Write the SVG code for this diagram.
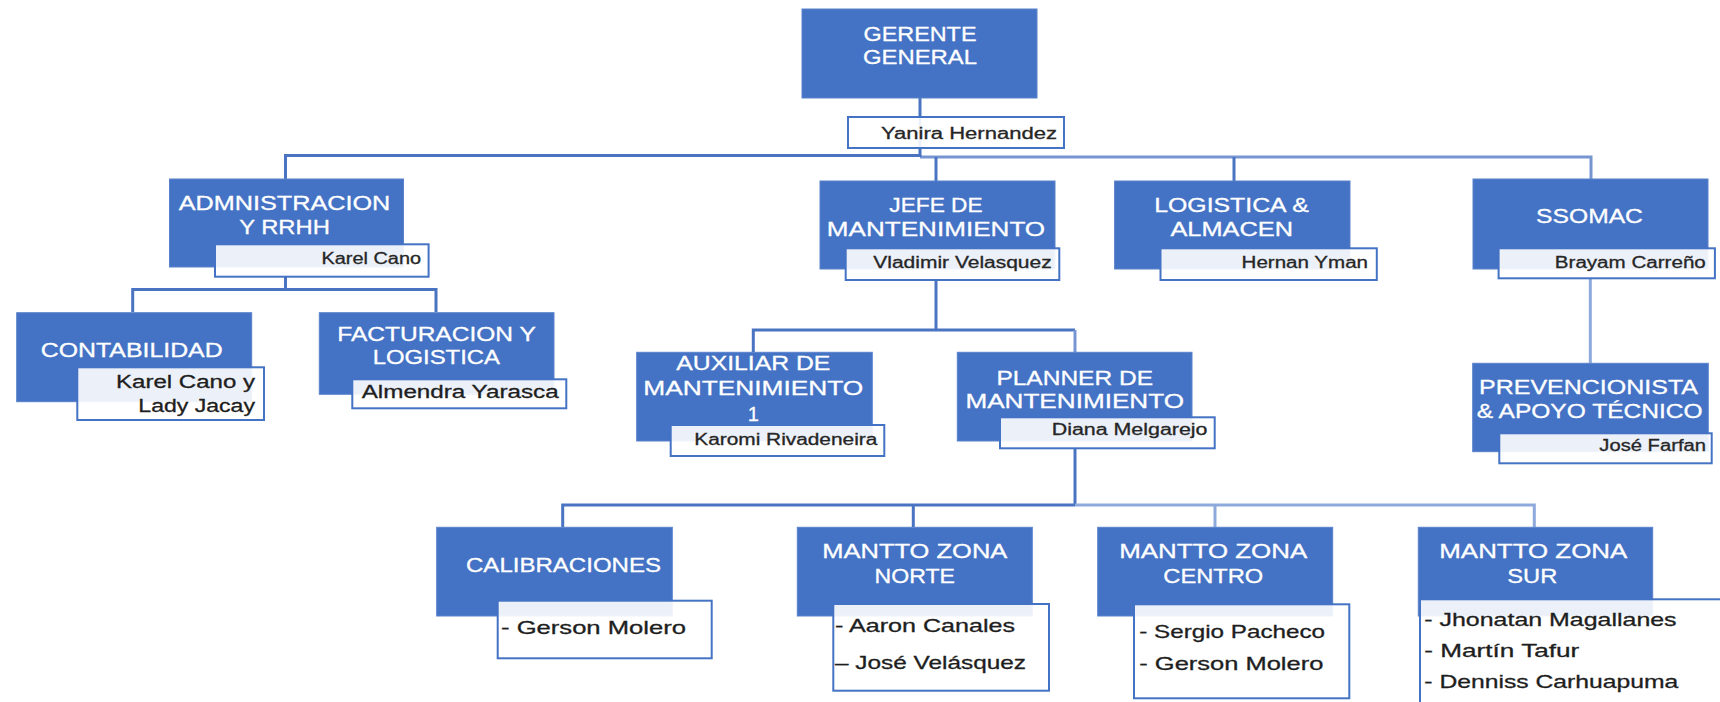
<svg xmlns="http://www.w3.org/2000/svg" width="1720" height="702" viewBox="0 0 1720 702">
<style>
.box{fill:#4472C4;stroke:#5A82CC;stroke-width:1}
.nm{fill:#FFFFFF;fill-opacity:0.9;stroke:#4472C4;stroke-width:2}
.t{font-family:"Liberation Sans",Arial,sans-serif;font-size:20px;fill:#FFFFFF;stroke:#FFFFFF;stroke-width:0.3;text-anchor:middle}
.n{font-family:"Liberation Sans",Arial,sans-serif;font-size:16px;fill:#262626;stroke:#262626;stroke-width:0.3;text-anchor:end}
.nb{font-family:"Liberation Sans",Arial,sans-serif;font-size:18px;fill:#1E1E1E;stroke:#1E1E1E;stroke-width:0.3;text-anchor:end}
.ls{font-family:"Liberation Sans",Arial,sans-serif;font-size:18.5px;fill:#1E1E1E;stroke:#1E1E1E;stroke-width:0.3;text-anchor:start}
.ln{fill:none;stroke:#4A74C2;stroke-width:3}
.lnm{fill:none;stroke:#7696D2;stroke-width:3}
.lnl{fill:none;stroke:#8EA9DB;stroke-width:3}
</style>
<rect x="0" y="0" width="1720" height="702" fill="#FFFFFF"/>
<g id="connectors">
<path class="ln" d="M920 98 V156"/>
<path class="ln" d="M285.5 179 V155.5 H920"/>
<path class="lnm" d="M920 157 H1591 V179"/>
<path class="ln" d="M920 155 V157"/>
<path class="ln" d="M936 157 V181"/>
<path class="ln" d="M1234 157 V181"/>
<path class="ln" d="M285.5 276 V289.5"/>
<path class="ln" d="M132.7 312 V289.5 H436 V312"/>
<path class="ln" d="M936 280 V330"/>
<path class="ln" d="M753.3 352 V330 H1075"/>
<path class="lnm" d="M1075 330 V352"/>
<path class="lnl" d="M1590.3 278 V363"/>
<path class="ln" d="M1075 448 V505"/>
<path class="ln" d="M562.7 527 V505 H1075"/>
<path class="ln" d="M913.3 505 V527"/>
<path class="lnl" d="M1075 505 H1534.3 V527"/>
<path class="lnl" d="M1215 505 V527"/>
</g>
<g id="n-gerente">
<rect class="box" x="802" y="9" width="235" height="89"/>
<text class="t" x="920" y="40.7" textLength="113" lengthAdjust="spacingAndGlyphs">GERENTE</text>
<text class="t" x="920" y="64" textLength="114" lengthAdjust="spacingAndGlyphs">GENERAL</text>
<rect class="nm" x="848" y="117" width="216" height="31"/>
<text class="n" x="1057" y="138.5" textLength="176" lengthAdjust="spacingAndGlyphs">Yanira Hernandez</text>
</g>
<g id="n-admin">
<rect class="box" x="169.5" y="179" width="234" height="88"/>
<text class="t" x="284.5" y="210" textLength="211.7" lengthAdjust="spacingAndGlyphs">ADMNISTRACION</text>
<text class="t" x="284.5" y="234" textLength="90.7" lengthAdjust="spacingAndGlyphs">Y RRHH</text>
<rect class="nm" x="215" y="244.3" width="213.6" height="32.4"/>
<text class="n" x="421" y="264.3" textLength="99.5" lengthAdjust="spacingAndGlyphs">Karel Cano</text>
</g>
<g id="n-jefe">
<rect class="box" x="820" y="181" width="235" height="88"/>
<text class="t" x="936" y="211.7" textLength="93.3" lengthAdjust="spacingAndGlyphs">JEFE DE</text>
<text class="t" x="936" y="236" textLength="218.3" lengthAdjust="spacingAndGlyphs">MANTENIMIENTO</text>
<rect class="nm" x="845.7" y="248.3" width="213.6" height="31.7"/>
<text class="n" x="1051.7" y="268.3" textLength="178.4" lengthAdjust="spacingAndGlyphs">Vladimir Velasquez</text>
</g>
<g id="n-logistica">
<rect class="box" x="1114.6" y="181" width="235.4" height="88"/>
<text class="t" x="1231.5" y="211.7" textLength="154.6" lengthAdjust="spacingAndGlyphs">LOGISTICA &amp;</text>
<text class="t" x="1231.7" y="236" textLength="122.6" lengthAdjust="spacingAndGlyphs">ALMACEN</text>
<rect class="nm" x="1160.5" y="248.3" width="216.3" height="31.7"/>
<text class="n" x="1368" y="268.3" textLength="126.4" lengthAdjust="spacingAndGlyphs">Hernan Yman</text>
</g>
<g id="n-ssomac">
<rect class="box" x="1473" y="179" width="235" height="90"/>
<text class="t" x="1589.5" y="222.7" textLength="106.8" lengthAdjust="spacingAndGlyphs">SSOMAC</text>
<rect class="nm" x="1498.6" y="248.3" width="216.3" height="30"/>
<text class="n" x="1705.8" y="268.3" textLength="151" lengthAdjust="spacingAndGlyphs">Brayam Carreño</text>
</g>
<g id="n-contabilidad">
<rect class="box" x="16.7" y="312.7" width="235" height="89"/>
<text class="t" x="131.7" y="357.3" textLength="182" lengthAdjust="spacingAndGlyphs">CONTABILIDAD</text>
<rect class="nm" x="77.3" y="367.3" width="186.7" height="52.7"/>
<text class="nb" x="255" y="388.3" textLength="139" lengthAdjust="spacingAndGlyphs">Karel Cano y</text>
<text class="nb" x="255" y="411.7" textLength="116.7" lengthAdjust="spacingAndGlyphs">Lady Jacay</text>
</g>
<g id="n-facturacion">
<rect class="box" x="319.3" y="312.7" width="234.7" height="81.6"/>
<text class="t" x="436.5" y="340.7" textLength="198.5" lengthAdjust="spacingAndGlyphs">FACTURACION Y</text>
<text class="t" x="436.3" y="364" textLength="127.3" lengthAdjust="spacingAndGlyphs">LOGISTICA</text>
<rect class="nm" x="352.3" y="379.3" width="214" height="29"/>
<text class="nb" x="558.7" y="398.3" textLength="197" lengthAdjust="spacingAndGlyphs">Almendra Yarasca</text>
</g>
<g id="n-auxiliar">
<rect class="box" x="636.7" y="352.3" width="235.6" height="88.7"/>
<text class="t" x="753.3" y="370" textLength="154" lengthAdjust="spacingAndGlyphs">AUXILIAR DE</text>
<text class="t" x="753.3" y="395" textLength="220" lengthAdjust="spacingAndGlyphs">MANTENIMIENTO</text>
<text class="t" x="753.3" y="420.7">1</text>
<rect class="nm" x="670.7" y="425" width="213.6" height="31"/>
<text class="n" x="877.3" y="445" textLength="183" lengthAdjust="spacingAndGlyphs">Karomi Rivadeneira</text>
</g>
<g id="n-planner">
<rect class="box" x="957.3" y="352.3" width="234.7" height="88.7"/>
<text class="t" x="1074.7" y="385" textLength="156.6" lengthAdjust="spacingAndGlyphs">PLANNER DE</text>
<text class="t" x="1074.7" y="408.3" textLength="218.6" lengthAdjust="spacingAndGlyphs">MANTENIMIENTO</text>
<rect class="nm" x="1000" y="417.3" width="214.7" height="31"/>
<text class="n" x="1207.5" y="435" textLength="155.8" lengthAdjust="spacingAndGlyphs">Diana Melgarejo</text>
</g>
<g id="n-prevencionista">
<rect class="box" x="1472.7" y="363.3" width="235.6" height="88.4"/>
<text class="t" x="1588.5" y="394" textLength="219" lengthAdjust="spacingAndGlyphs">PREVENCIONISTA</text>
<text class="t" x="1589.7" y="418.3" textLength="226" lengthAdjust="spacingAndGlyphs">&amp; APOYO TÉCNICO</text>
<rect class="nm" x="1499.3" y="433.3" width="212.4" height="30"/>
<text class="n" x="1706" y="450.7" textLength="106.7" lengthAdjust="spacingAndGlyphs">José Farfan</text>
</g>
<g id="n-calibraciones">
<rect class="box" x="436.7" y="527.3" width="235.6" height="88.7"/>
<text class="t" x="563.5" y="571.7" textLength="195" lengthAdjust="spacingAndGlyphs">CALIBRACIONES</text>
<rect class="nm" x="497.7" y="600.7" width="214" height="57.6"/>
<text class="ls" x="501" y="634" textLength="185" lengthAdjust="spacingAndGlyphs">- Gerson Molero</text>
</g>
<g id="n-norte">
<rect class="box" x="797.3" y="527.3" width="235" height="88.7"/>
<text class="t" x="914.8" y="558.3" textLength="185" lengthAdjust="spacingAndGlyphs">MANTTO ZONA</text>
<text class="t" x="914.8" y="582.7" textLength="80.4" lengthAdjust="spacingAndGlyphs">NORTE</text>
<rect class="nm" x="833.3" y="604" width="215.7" height="86.7"/>
<text class="ls" x="835" y="631.7" textLength="180" lengthAdjust="spacingAndGlyphs">- Aaron Canales</text>
<text class="ls" x="835" y="669" textLength="191" lengthAdjust="spacingAndGlyphs">– José Velásquez</text>
</g>
<g id="n-centro">
<rect class="box" x="1097.7" y="527.3" width="235" height="88.7"/>
<text class="t" x="1213.2" y="558.3" textLength="188" lengthAdjust="spacingAndGlyphs">MANTTO ZONA</text>
<text class="t" x="1213.3" y="582.7" textLength="100" lengthAdjust="spacingAndGlyphs">CENTRO</text>
<rect class="nm" x="1134" y="604.3" width="215.3" height="94"/>
<text class="ls" x="1139.3" y="638.3" textLength="185.7" lengthAdjust="spacingAndGlyphs">- Sergio Pacheco</text>
<text class="ls" x="1139.3" y="670" textLength="184" lengthAdjust="spacingAndGlyphs">- Gerson Molero</text>
</g>
<g id="n-sur">
<rect class="box" x="1418.3" y="527.3" width="234.4" height="88.7"/>
<text class="t" x="1533.3" y="558.3" textLength="188" lengthAdjust="spacingAndGlyphs">MANTTO ZONA</text>
<text class="t" x="1532.3" y="582.7" textLength="50" lengthAdjust="spacingAndGlyphs">SUR</text>
<rect class="nm" x="1420" y="599.3" width="310" height="110"/>
<text class="ls" x="1424.3" y="625.7" textLength="252.3" lengthAdjust="spacingAndGlyphs">- Jhonatan Magallanes</text>
<text class="ls" x="1424.3" y="656.7" textLength="155" lengthAdjust="spacingAndGlyphs">- Martín Tafur</text>
<text class="ls" x="1424.3" y="688.3" textLength="254" lengthAdjust="spacingAndGlyphs">- Denniss Carhuapuma</text>
</g>
</svg>
